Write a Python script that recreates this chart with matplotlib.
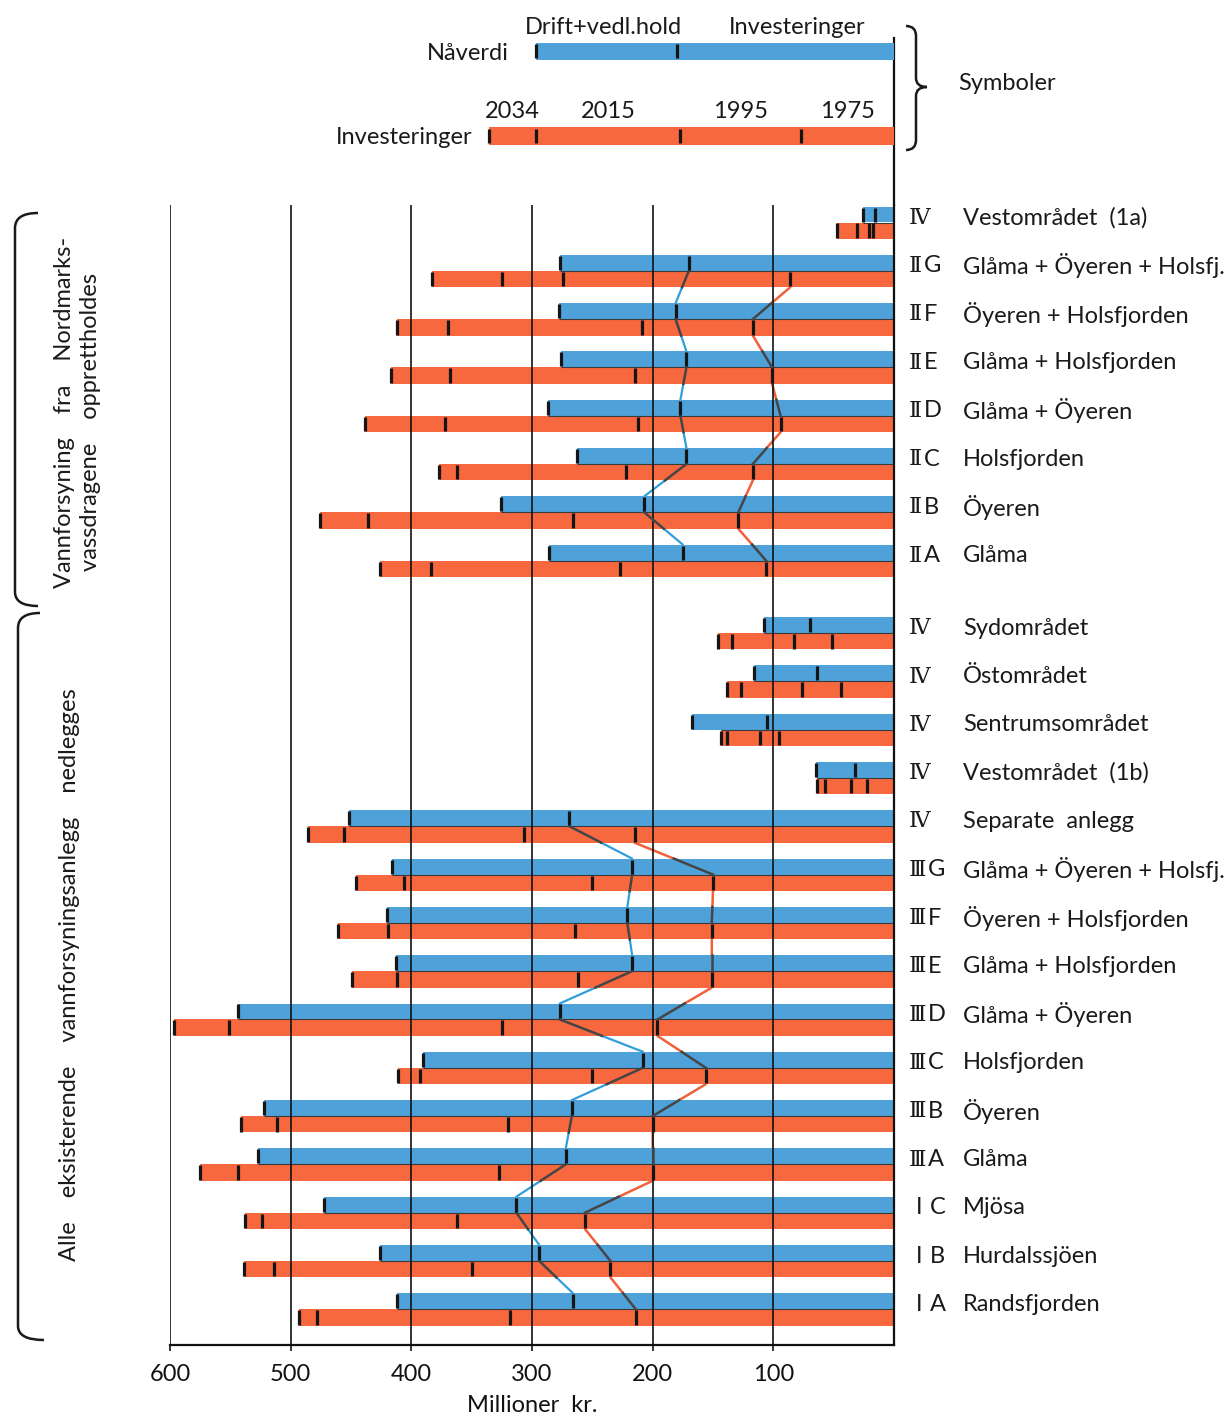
import matplotlib
matplotlib.use("Agg")
import matplotlib.pyplot as plt
from matplotlib.path import Path
from matplotlib.patches import PathPatch
import matplotlib.transforms as mtransforms

plt.rcParams['font.family'] = ['Lato', 'DejaVu Sans']

# ---------------- data ----------------
code_num = ["Ⅳ", "Ⅱ", "Ⅱ", "Ⅱ", "Ⅱ", "Ⅱ", "Ⅱ", "Ⅱ",
            "Ⅳ", "Ⅳ", "Ⅳ", "Ⅳ", "Ⅳ",
            "Ⅲ", "Ⅲ", "Ⅲ", "Ⅲ", "Ⅲ", "Ⅲ", "Ⅲ",
            "I", "I", "I"]
code_let = ["", "G", "F", "E", "D", "C", "B", "A",
            "", "", "", "", "",
            "G", "F", "E", "D", "C", "B", "A",
            "C", "B", "A"]
names = ["Vestområdet  (1a)", "Glåma + Öyeren + Holsfj.", "Öyeren + Holsfjorden",
         "Glåma + Holsfjorden", "Glåma + Öyeren", "Holsfjorden", "Öyeren", "Glåma",
         "Sydområdet", "Östområdet", "Sentrumsområdet", "Vestområdet  (1b)",
         "Separate  anlegg",
         "Glåma + Öyeren + Holsfj.", "Öyeren + Holsfjorden", "Glåma + Holsfjorden",
         "Glåma + Öyeren", "Holsfjorden", "Öyeren", "Glåma",
         "Mjösa", "Hurdalssjöen", "Randsfjorden"]
# Nåverdi (present value): total and investment part
nav_total  = [26, 277, 278, 276, 287, 263, 326, 286,
              108, 116, 167, 65, 452, 416, 420, 413, 544, 390, 522, 527, 472, 426, 412]
nav_invest = [16, 170, 181, 172, 177, 172, 207, 175,
              70, 64, 105, 32, 269, 217, 221, 217, 277, 208, 267, 272, 313, 294, 266]
# Cumulative investments up to year
inv_2034 = [47, 383, 412, 417, 438, 377, 476, 426,
            146, 138, 143, 64, 486, 446, 461, 449, 597, 411, 541, 575, 538, 539, 493]
inv_2015 = [31, 325, 370, 368, 372, 362, 436, 384,
            134, 127, 138, 57, 456, 406, 419, 412, 551, 393, 511, 544, 524, 514, 478]
inv_1995 = [21, 274, 209, 215, 212, 222, 266, 227,
            83, 76, 111, 36, 307, 250, 264, 262, 325, 250, 320, 327, 362, 350, 318]
inv_1975 = [17, 86, 117, 101, 94, 117, 129, 106,
            51, 44, 95, 22, 215, 150, 151, 151, 196, 156, 200, 200, 256, 235, 214]
# row positions (second group after a half-row gap)
row_pos = [0, 1, 2, 3, 4, 5, 6, 7,
           8.5, 9.5, 10.5, 11.5, 12.5, 13.5, 14.5, 15.5, 16.5, 17.5, 18.5, 19.5, 20.5, 21.5, 22.5]
# rows joined by the connecting lines
chains = [[1, 2, 3, 4, 5, 6, 7], [12, 13, 14, 15, 16, 17, 18, 19, 20, 21, 22]]

# legend ("Symboler") values
leg_nav = [297, 180]
leg_inv = [336, 297, 177, 77]
leg_years = ["2034", "2015", "1995", "1975"]

x_ticks = [600, 500, 400, 300, 200, 100]

# ---------------- style ----------------
BLUE = "#4fa1da"
ORANGE = "#f7683f"
LBLUE = "#2f9fdb"
LORANGE = "#f2603a"
DARK = "#454545"
TICK = "#151515"
TXT = "#1a1a1a"

W, H = 1227, 1416
fig = plt.figure(figsize=(W / 100, H / 100), dpi=100)
fig.patch.set_facecolor("white")

AX_L, AX_R, AX_T, AX_B = 170, 894, 205, 1345
ROW0, ROWSP = 222.5, 48.3
ax = fig.add_axes([AX_L / W, 1 - AX_B / H, (AX_R - AX_L) / W, (AX_B - AX_T) / H])
ax.set_xlim(600, 0)
ax.set_ylim((AX_B - ROW0) / ROWSP, (AX_T - ROW0) / ROWSP)

hb, ho = 0.33, 0.34
blue_y = [p - hb / 2 for p in row_pos]
orange_y = [p + ho / 2 for p in row_pos]
ax.barh(blue_y, nav_total, height=hb, color=BLUE, zorder=2, linewidth=0)
ax.barh(orange_y, inv_2034, height=ho, color=ORANGE, zorder=2, linewidth=0)
# seam between the two bars
ax.hlines(row_pos, 0, [min(a, b) for a, b in zip(nav_total, inv_2034)],
          color="#3a3a3a", lw=0.8, zorder=2.2)

# gridlines
for v in x_ticks:
    ax.axvline(v, color="#111111", lw=1.2, zorder=2.5)

# tick marks inside bars
ins = 0.02
for i, p in enumerate(row_pos):
    for v in (nav_total[i], nav_invest[i]):
        ax.vlines(v, p - hb + ins, p - ins, color=TICK, lw=2.3, zorder=4)
    for v in (inv_2034[i], inv_2015[i], inv_1995[i], inv_1975[i]):
        ax.vlines(v, p + ins, p + ho - ins, color=TICK, lw=2.3, zorder=4)

# connecting lines
def lerp(a, b, t):
    return a + (b - a) * t

for ch in chains:
    bx, by, ox, oy = [], [], [], []
    for i in ch:
        p = row_pos[i]
        bx += [nav_invest[i], nav_invest[i]]
        by += [p - hb, p]
        ox += [inv_1975[i], inv_1975[i]]
        oy += [p, p + ho]
    ax.plot(bx, by, color=LBLUE, lw=1.6, zorder=1.5, solid_capstyle="butt")
    ax.plot(ox, oy, color=LORANGE, lw=1.8, zorder=1.5, solid_capstyle="butt")
    for a, b in zip(ch[:-1], ch[1:]):
        pa, pb = row_pos[a], row_pos[b]
        # blue line crossing the orange bar of row a
        x1, y1, x2, y2 = nav_invest[a], pa, nav_invest[b], pb - hb
        t = ho / (y2 - y1)
        ax.plot([x1, lerp(x1, x2, t)], [y1, lerp(y1, y2, t)], color=DARK, lw=1.8, zorder=3)
        # orange line crossing the blue bar of row b
        x1, y1, x2, y2 = inv_1975[a], pa + ho, inv_1975[b], pb
        t = (pb - hb - y1) / (y2 - y1)
        ax.plot([lerp(x1, x2, t), x2], [lerp(y1, y2, t), y2], color=DARK, lw=1.8, zorder=3)

for s in ("left", "top"):
    ax.spines[s].set_visible(False)
for s in ("right", "bottom"):
    ax.spines[s].set_linewidth(1.6)
    ax.spines[s].set_color("#111111")
ax.set_yticks([])
ax.set_xticks(x_ticks)
ax.set_xticklabels([str(v) for v in x_ticks], fontsize=17)
ax.tick_params(axis="x", length=4, width=1.2, pad=10, colors="#111111")
ax.set_xlabel("Millioner  kr.", fontsize=17, labelpad=7, color="#111111")

# row labels
tr = mtransforms.blended_transform_factory(fig.transFigure, ax.transData)
for i, p in enumerate(row_pos):
    num = code_num[i]
    plain = num == "I"
    fam = ["Lato"] if plain else ["DejaVu Serif"]
    x_num = 916 / W if plain else 909 / W
    t_num = ax.text(x_num, p - 0.1, num, transform=tr, fontsize=17 if plain else 16,
                    va="center", ha="left", color=TXT, family=fam, clip_on=False)
    if code_let[i]:
        gap = 5 if plain else 1
        ax.annotate(code_let[i], xy=(1, 0.5), xycoords=t_num, xytext=(gap, 0),
                    textcoords="offset points", fontsize=17, va="center", ha="left",
                    color=TXT)
    ax.text(963 / W, p - 0.1, names[i], transform=tr, fontsize=17, va="center",
            ha="left", color=TXT, clip_on=False)

# ---------------- legend ----------------
lax = fig.add_axes([AX_L / W, 1 - 170 / H, (AX_R - AX_L) / W, 170 / H])
lax.set_xlim(600, 0)
lax.set_ylim(170, 0)
lax.axis("off")
lax.barh([51], [leg_nav[0]], height=17, color=BLUE, linewidth=0)
lax.barh([136], [leg_inv[0]], height=18, color=ORANGE, linewidth=0)
for v in leg_nav:
    lax.vlines(v, 44, 58, color=TICK, lw=2.3)
for v in leg_inv:
    lax.vlines(v, 129, 143, color=TICK, lw=2.3)
seg_edges = leg_inv + [0]
for k, yr in enumerate(leg_years):
    mid = (seg_edges[k] + seg_edges[k + 1]) / 2
    lax.text(mid, 111, yr, fontsize=17, ha="center", va="center", color=TXT)
lax.text((leg_nav[0] + leg_nav[1]) / 2 + 2, 27, "Drift+vedl.hold", fontsize=17,
         ha="center", va="center", color=TXT)
lax.text(leg_nav[1] / 2 - 10, 27, "Investeringer", fontsize=17,
         ha="center", va="center", color=TXT)
lax.text(leg_nav[0] + 22, 53, "Nåverdi", fontsize=17, ha="right", va="center", color=TXT)
lax.text(leg_inv[0] + 13, 137, "Investeringer", fontsize=17, ha="right", va="center", color=TXT)

# ---------------- overlay: braces, side texts ----------------
ov = fig.add_axes([0, 0, 1, 1], zorder=-1)
ov.set_xlim(0, W)
ov.set_ylim(H, 0)
ov.axis("off")

# right spine continued up through the legend
ov.plot([AX_R, AX_R], [38, AX_T], color="#111111", lw=1.6)

def make_path(pts_codes):
    return Path([p for p, c in pts_codes], [c for p, c in pts_codes])

M, L, C = Path.MOVETO, Path.LINETO, Path.CURVE3
right_brace = make_path([((906, 26), M), ((916, 26), C), ((916, 36), C), ((916, 78), L),
                         ((916, 87), C), ((927, 87), C), ((916, 87), C), ((916, 96), C),
                         ((916, 140), L), ((916, 150), C), ((906, 150), C)])
ov.add_patch(PathPatch(right_brace, fill=False, lw=1.8, edgecolor=TXT))
ov.text(958, 83, "Symboler", fontsize=17, ha="left", va="center", color=TXT)

top_br = make_path([((38, 213), M), ((15, 213), C), ((15, 228), C), ((15, 592), L),
                    ((15, 606), C), ((38, 606), C)])
bot_br = make_path([((40, 613), M), ((18, 613), C), ((18, 628), C), ((18, 1326), L),
                    ((18, 1340), C), ((44, 1340), C)])
for pth in (top_br, bot_br):
    ov.add_patch(PathPatch(pth, fill=False, lw=1.8, edgecolor=TXT))

ov.text(65, 412, "Vannforsyning    fra    Nordmarks-", rotation=90, fontsize=17,
        ha="center", va="center", color=TXT)
ov.text(91, 422, "vassdragene    opprettholdes", rotation=90, fontsize=17,
        ha="center", va="center", color=TXT)
ov.text(70, 975, "Alle    eksisterende    vannforsyningsanlegg    nedlegges", rotation=90,
        fontsize=17, ha="center", va="center", color=TXT)

fig.savefig("out.png", dpi=100, facecolor="white")
